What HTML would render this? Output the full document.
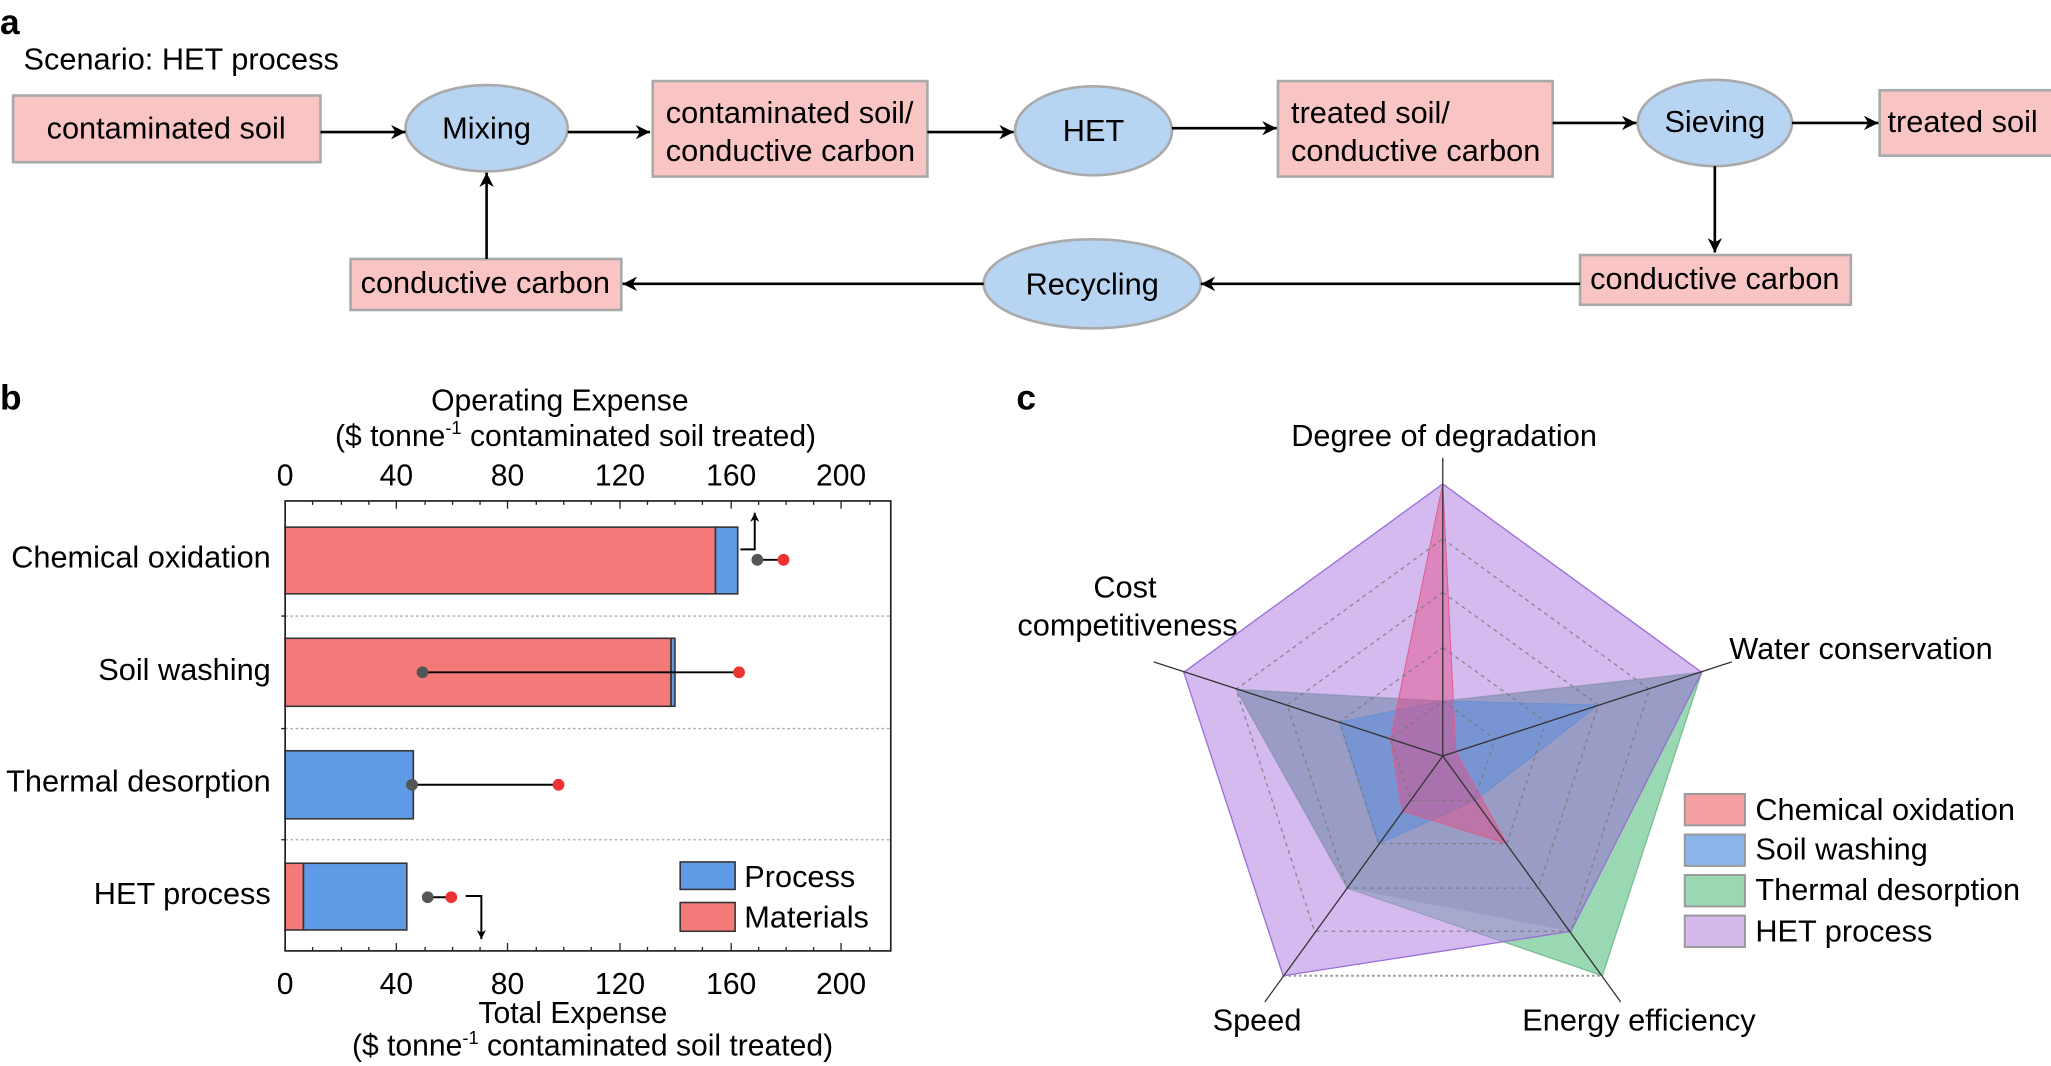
<!DOCTYPE html>
<html><head><meta charset="utf-8"><style>
html,body{margin:0;padding:0;background:#fff;}
svg{display:block;font-family:"Liberation Sans",Arial,sans-serif;}
</style></head><body>
<svg width="2051" height="1066" viewBox="0 0 1568 815" preserveAspectRatio="none" xmlns="http://www.w3.org/2000/svg">
<defs>
<marker id="ah" viewBox="0 0 10 10" refX="10" refY="5" markerWidth="11" markerHeight="11" markerUnits="userSpaceOnUse" orient="auto"><path d="M0,0 L10,5 L0,10 L3,5 z" fill="#000"/></marker>
<marker id="ah2" viewBox="0 0 10 10" refX="10" refY="5" markerWidth="7" markerHeight="7" markerUnits="userSpaceOnUse" orient="auto"><path d="M0,0 L10,5 L0,10 L3,5 z" fill="#000"/></marker>
</defs>
<!-- Panel a -->
<text x="0" y="26" font-size="27" font-weight="bold">a</text>
<text x="18" y="53" font-size="23.5">Scenario: HET process</text>
<g fill="#f9c4c4" stroke="#aaa" stroke-width="2">
<rect x="10" y="73" width="235" height="51"/>
<rect x="499" y="62" width="210" height="73"/>
<rect x="977" y="62" width="210" height="73"/>
<rect x="1437" y="69" width="133" height="50"/>
<rect x="1208" y="195" width="207" height="38"/>
<rect x="268" y="198" width="207" height="39"/>
</g>
<g fill="#b8d4f3" stroke="#aaa" stroke-width="2">
<ellipse cx="372" cy="98" rx="62" ry="33"/>
<ellipse cx="836" cy="100" rx="60" ry="34"/>
<ellipse cx="1311" cy="94" rx="59" ry="33"/>
<ellipse cx="835" cy="217" rx="83" ry="34"/>
</g>
<g stroke="#000" stroke-width="2" fill="none">
<line x1="245" y1="101" x2="310" y2="101" marker-end="url(#ah)"/>
<line x1="434" y1="101" x2="497" y2="101" marker-end="url(#ah)"/>
<line x1="709" y1="101" x2="775" y2="101" marker-end="url(#ah)"/>
<line x1="896" y1="98" x2="976" y2="98" marker-end="url(#ah)"/>
<line x1="1187" y1="94" x2="1251" y2="94" marker-end="url(#ah)"/>
<line x1="1370" y1="94" x2="1436" y2="94" marker-end="url(#ah)"/>
<line x1="1311" y1="127" x2="1311" y2="193" marker-end="url(#ah)"/>
<line x1="1208" y1="217" x2="918" y2="217" marker-end="url(#ah)"/>
<line x1="752" y1="217" x2="476" y2="217" marker-end="url(#ah)"/>
<line x1="372" y1="198" x2="372" y2="132" marker-end="url(#ah)"/>
</g>
<g font-size="23.5">
<text x="127" y="106" text-anchor="middle">contaminated soil</text>
<text x="372" y="106" text-anchor="middle">Mixing</text>
<text x="509" y="94">contaminated soil/</text>
<text x="509" y="123">conductive carbon</text>
<text x="836" y="108" text-anchor="middle">HET</text>
<text x="987" y="94">treated soil/</text>
<text x="987" y="123">conductive carbon</text>
<text x="1311" y="101" text-anchor="middle">Sieving</text>
<text x="1443" y="101">treated soil</text>
<text x="1311" y="221" text-anchor="middle">conductive carbon</text>
<text x="835" y="225" text-anchor="middle">Recycling</text>
<text x="371" y="224" text-anchor="middle">conductive carbon</text>
</g>
<!-- Panel b -->
<text x="0" y="313" font-size="27" font-weight="bold">b</text>
<g font-size="23" text-anchor="middle">
<text x="428" y="314">Operating Expense</text>
<text x="440" y="341">($ tonne<tspan font-size="14" dy="-9">-1</tspan><tspan dy="9"> contaminated soil treated)</tspan></text>
<text x="218" y="371">0</text><text x="303" y="371">40</text><text x="388" y="371">80</text><text x="474" y="371">120</text><text x="559" y="371">160</text><text x="643" y="371">200</text>
<text x="218" y="760">0</text><text x="303" y="760">40</text><text x="388" y="760">80</text><text x="474" y="760">120</text><text x="559" y="760">160</text><text x="643" y="760">200</text>
<text x="438" y="782">Total Expense</text>
<text x="453" y="807">($ tonne<tspan font-size="14" dy="-9">-1</tspan><tspan dy="9"> contaminated soil treated)</tspan></text>
</g>
<g font-size="23.5" text-anchor="end">
<text x="207" y="434">Chemical oxidation</text>
<text x="207" y="520">Soil washing</text>
<text x="207" y="605">Thermal desorption</text>
<text x="207" y="691">HET process</text>
</g>
<g stroke="#aaa" stroke-width="1" stroke-dasharray="2,2">
<line x1="218" y1="471" x2="681" y2="471"/><line x1="218" y1="557" x2="681" y2="557"/><line x1="218" y1="642" x2="681" y2="642"/>
</g>
<g stroke="#333" stroke-width="1.2">
<rect x="218" y="403" width="329" height="51" fill="#f47a7a"/>
<rect x="547" y="403" width="17" height="51" fill="#5f9ae6"/>
<rect x="218" y="488" width="295" height="52" fill="#f47a7a"/>
<rect x="513" y="488" width="3" height="52" fill="#5f9ae6"/>
<rect x="218" y="574" width="98" height="52" fill="#5f9ae6"/>
<rect x="218" y="660" width="14" height="51" fill="#f47a7a"/>
<rect x="232" y="660" width="79" height="51" fill="#5f9ae6"/>
</g>
<rect x="218" y="383" width="463" height="344" fill="none" stroke="#222" stroke-width="1.3"/>
<g stroke="#222" stroke-width="1">
<path d="M218,383v6M303,383v6M388,383v6M474,383v6M559,383v6M643,383v6M239,383v3M261,383v3M282,383v3M325,383v3M346,383v3M367,383v3M410,383v3M431,383v3M452,383v3M495,383v3M516,383v3M537,383v3M580,383v3M601,383v3M622,383v3M665,383v3"/>
<path d="M218,727v-6M303,727v-6M388,727v-6M474,727v-6M559,727v-6M643,727v-6M239,727v-3M261,727v-3M282,727v-3M325,727v-3M346,727v-3M367,727v-3M410,727v-3M431,727v-3M452,727v-3M495,727v-3M516,727v-3M537,727v-3M580,727v-3M601,727v-3M622,727v-3M665,727v-3"/>
<path d="M215,471h3M215,557h3M215,642h3"/>
</g>
<g stroke="#000" stroke-width="1.5">
<line x1="579" y1="428" x2="599" y2="428"/>
<line x1="323" y1="514" x2="565" y2="514"/>
<line x1="315" y1="600" x2="427" y2="600"/>
<line x1="327" y1="686" x2="345" y2="686"/>
</g>
<g fill="#555"><circle cx="579" cy="428" r="4.5"/><circle cx="323" cy="514" r="4.5"/><circle cx="315" cy="600" r="4.5"/><circle cx="327" cy="686" r="4.5"/></g>
<g fill="#ee3333"><circle cx="599" cy="428" r="4.5"/><circle cx="565" cy="514" r="4.5"/><circle cx="427" cy="600" r="4.5"/><circle cx="345" cy="686" r="4.5"/></g>
<g stroke="#000" stroke-width="1.5" fill="none">
<polyline points="566,420 577,420 577,392" marker-end="url(#ah2)"/>
<polyline points="356,685 368,685 368,718" marker-end="url(#ah2)"/>
</g>
<rect x="520" y="659" width="42" height="21" fill="#5f9ae6" stroke="#333" stroke-width="1.2"/>
<rect x="520" y="690" width="42" height="22" fill="#f47a7a" stroke="#333" stroke-width="1.2"/>
<text x="569" y="678" font-size="23.5">Process</text>
<text x="569" y="709" font-size="23.5">Materials</text>
<!-- Panel c -->
<text x="777" y="313" font-size="27" font-weight="bold">c</text>
<polygon points="1103,536 1301,514 1225,746 1030,679 945,527" fill="#9ad8b4" stroke="#4aa070" stroke-width="1" stroke-opacity="0.6"/>
<polygon points="1103,370 1301,514 1201,712 981,746 905,514" fill="rgba(178,130,225,0.55)" stroke="#9a6fd8" stroke-width="1"/>
<polygon points="1103,536 1301,514 1201,712 1030,679 945,527" fill="rgba(110,120,170,0.25)"/>
<polygon points="1103,536 1222,539 1128,612 1054,645 1024,552" fill="rgba(90,140,225,0.5)" stroke="#6a8fd0" stroke-width="0.8"/>
<polygon points="1103,370 1113,575 1152,645 1072,620 1063,565" fill="rgba(230,70,130,0.45)" stroke="#d86090" stroke-width="0.8"/>
<g fill="none" stroke="#777" stroke-width="1" stroke-dasharray="3,3" opacity="0.8">
<polygon points="1103,536 1143,565 1127,612 1079,612 1063,565"/>
<polygon points="1103,495 1182,552 1152,645 1054,645 1024,552"/>
<polygon points="1103,453 1222,539 1176,679 1030,679 984,539"/>
<polygon points="1103,412 1261,527 1201,712 1005,712 945,527"/>
</g>
<line x1="981" y1="746" x2="1225" y2="746" stroke="#999" stroke-width="1.5" stroke-dasharray="2,2"/>
<g stroke="#333" stroke-width="1">
<line x1="1103" y1="578" x2="1103" y2="350"/>
<line x1="1103" y1="578" x2="1324" y2="506"/>
<line x1="1103" y1="578" x2="1239" y2="766"/>
<line x1="1103" y1="578" x2="967" y2="766"/>
<line x1="1103" y1="578" x2="882" y2="506"/>
</g>
<g font-size="23.5">
<text x="1104" y="341" text-anchor="middle">Degree of degradation</text>
<text x="1322" y="504">Water conservation</text>
<text x="860" y="457" text-anchor="middle">Cost</text>
<text x="862" y="486" text-anchor="middle">competitiveness</text>
<text x="961" y="788" text-anchor="middle">Speed</text>
<text x="1253" y="788" text-anchor="middle">Energy efficiency</text>
</g>
<g stroke="#999" stroke-width="1.5">
<rect x="1288" y="607" width="46" height="24" fill="#f4a0a0"/>
<rect x="1288" y="638" width="46" height="24" fill="#8ab4ea"/>
<rect x="1288" y="669" width="46" height="24" fill="#9ad8b4"/>
<rect x="1288" y="700" width="46" height="24" fill="#d5b8ec"/>
</g>
<g font-size="23.5">
<text x="1342" y="627">Chemical oxidation</text>
<text x="1342" y="657">Soil washing</text>
<text x="1342" y="688">Thermal desorption</text>
<text x="1342" y="720">HET process</text>
</g>
</svg>
</body></html>
